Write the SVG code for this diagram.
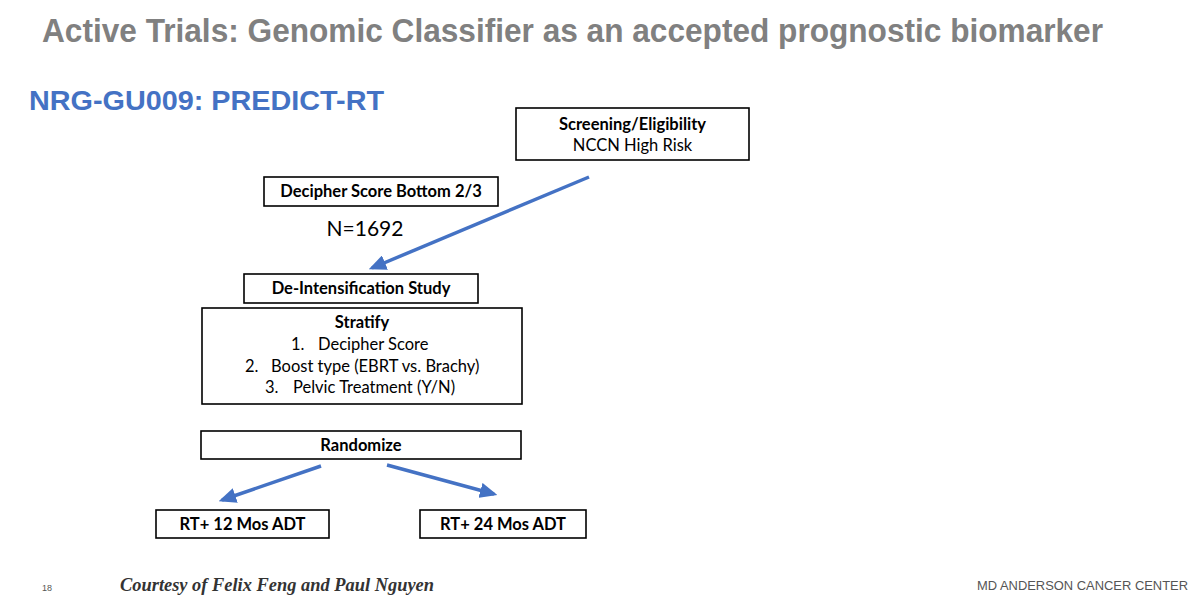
<svg xmlns="http://www.w3.org/2000/svg" width="1200" height="604" viewBox="0 0 1200 604">
<style>
.box{fill:#fff;stroke:#000;stroke-width:1.6}
.t{font-family:Lato,"Open Sans",sans-serif;font-size:16.5px;fill:#000;text-anchor:middle}
.s{text-anchor:start}
.b{font-weight:bold}
.arr{stroke:#4472C4;stroke-width:3.5;fill:none;marker-end:url(#ah)}
</style>
<defs>
<marker id="ah" markerWidth="5" markerHeight="4.4" refX="4" refY="2.2" orient="auto" markerUnits="strokeWidth">
<path d="M0,0 L5,2.2 L0,4.4 Z" fill="#4472C4"/>
</marker>
</defs>
<rect width="1200" height="604" fill="#fff"/>
<text x="42" y="42" font-family="'Liberation Sans',Arial,sans-serif" font-weight="bold" font-size="33" fill="#808080" textLength="1061" lengthAdjust="spacingAndGlyphs">Active Trials: Genomic Classifier as an accepted prognostic biomarker</text>
<text x="29" y="110" font-family="'Liberation Sans',Arial,sans-serif" font-weight="bold" font-size="28" fill="#4472C4" textLength="355" lengthAdjust="spacingAndGlyphs">NRG-GU009: PREDICT-RT</text>

<g id="connectors">
<line class="arr" x1="589" y1="177" x2="372" y2="268"/>
<line class="arr" x1="321" y1="466" x2="222" y2="500"/>
<line class="arr" x1="387" y1="465" x2="494" y2="494"/>
</g>

<g id="screening">
<rect class="box" x="516" y="108" width="233" height="52"/>
<text class="t b" x="632.5" y="130">Screening/Eligibility</text>
<text class="t" x="632.5" y="151">NCCN High Risk</text>
</g>
<g id="decipher">
<rect class="box" x="264" y="177" width="234" height="29"/>
<text class="t b" x="381" y="197">Decipher Score Bottom 2/3</text>
</g>
<g id="n1692">
<text x="365" y="236" font-family="Lato,'Open Sans',sans-serif" font-size="21" text-anchor="middle">N=1692</text>
</g>
<g id="deintens">
<rect class="box" x="244" y="274" width="234" height="29"/>
<text class="t b" x="361" y="294">De-Intensification Study</text>
</g>
<g id="stratify">
<rect class="box" x="202" y="308" width="320" height="96"/>
<text class="t b" x="362" y="328">Stratify</text>
<text class="t s" x="291" y="350">1.</text>
<text class="t s" x="318" y="350">Decipher Score</text>
<text class="t s" x="245" y="372">2.</text>
<text class="t s" x="271" y="372">Boost type (EBRT vs. Brachy)</text>
<text class="t s" x="265" y="393">3.</text>
<text class="t s" x="293" y="393">Pelvic Treatment (Y/N)</text>
</g>
<g id="randomize">
<rect class="box" x="201" y="431" width="320" height="28"/>
<text class="t b" x="361" y="451">Randomize</text>
</g>
<g id="rt12">
<rect class="box" x="156" y="510" width="173" height="28"/>
<text class="t b" x="242.5" y="530">RT+ 12 Mos ADT</text>
</g>
<g id="rt24">
<rect class="box" x="420" y="510" width="166" height="28"/>
<text class="t b" x="503" y="530">RT+ 24 Mos ADT</text>
</g>

<text x="42" y="591" font-family="'Liberation Sans',Arial,sans-serif" font-size="9" fill="#555">18</text>
<text x="120" y="591" font-family="'Liberation Serif','Times New Roman',serif" font-weight="bold" font-style="italic" font-size="19" fill="#333" textLength="314" lengthAdjust="spacingAndGlyphs">Courtesy of Felix Feng and Paul Nguyen</text>
<text x="977" y="590" font-family="'Liberation Sans',Arial,sans-serif" font-size="13" fill="#555" textLength="211" lengthAdjust="spacingAndGlyphs">MD ANDERSON CANCER CENTER</text>
</svg>
